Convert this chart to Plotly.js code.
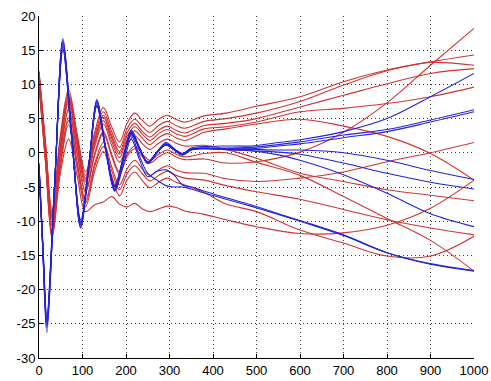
<!DOCTYPE html>
<html>
<head>
<meta charset="utf-8">
<script src="https://cdn.plot.ly/plotly-3.0.1.min.js"></script>
<style>html,body{margin:0;padding:0;background:#fff;}#chart{width:491px;height:381px;}</style>
</head>
<body>
<div id="chart"></div>
<script>
// x positions (samples)
const redX  = [0, 15, 30, 49, 68, 88, 107, 128, 148, 167, 185, 203, 220, 238, 255, 275, 295, 315, 335, 380, 430, 500, 600, 700, 800, 900, 1000];
const blueX = [0, 9, 18, 36, 55, 75, 96, 115, 133, 153, 174, 193, 212, 231, 250, 271, 292, 311, 330, 350, 375, 420, 487, 550, 600, 700, 800, 900, 1000];

// red series
const red1  = [12.0, 1.5, -8.5, 2.5, 9.2, 2.7, -2.8, 3.0, 6.6, 3.8, 1.6, 4.4, 5.8, 4.7, 3.9, 4.9, 5.5, 4.9, 4.5, 5.4, 5.8, 6.8, 8.2, 10.4, 12.1, 13.3, 14.3];
const red2  = [11.8, 1.2, -8.9, 2.0, 8.7, 2.2, -3.3, 2.5, 6.0, 3.1, 0.8, 3.6, 4.9, 3.8, 3.0, 4.0, 4.6, 4.0, 3.6, 4.6, 5.0, 5.8, 7.5, 9.9, 12.0, 13.2, 12.8];
const red3  = [11.7, 1.0, -9.2, 1.7, 8.3, 1.8, -3.7, 2.0, 5.5, 2.6, 0.2, 3.0, 4.3, 3.1, 2.3, 3.3, 3.9, 3.3, 2.9, 4.0, 4.3, 5.0, 6.7, 8.4, 10.1, 11.6, 12.3];
const red4  = [11.6, 0.8, -9.4, 1.4, 8.0, 1.5, -4.0, 1.7, 5.2, 2.2, -0.2, 2.5, 3.8, 2.7, 1.8, 2.8, 3.4, 2.8, 2.4, 3.5, 3.8, 4.5, 6.0, 6.5, 7.2, 8.2, 9.6];
const red5  = [11.4, 0.7, -9.6, 1.1, 7.7, 1.2, -4.3, 1.4, 4.7, 1.7, -0.7, 2.0, 3.2, 2.1, 1.2, 2.2, 2.8, 2.2, 1.8, 3.0, 3.5, 4.2, 4.9, 3.9, 2.4, -0.1, -4.0];
const red6  = [11.3, 0.4, -9.9, 0.7, 7.3, 0.8, -4.7, 0.9, 4.2, 1.1, -1.4, 1.3, 2.5, 1.3, 0.5, 1.4, 2.0, 1.4, 1.0, 1.1, 0.5, -0.8, -3.0, -4.2, -5.4, -6.2, -7.0];
const red7  = [10.9, -0.2, -10.7, -0.3, 6.2, -0.3, -5.8, -0.4, 2.8, -0.5, -3.1, -0.5, 0.6, -0.6, -1.5, -0.6, 0.0, -0.6, -1.0, -0.9, -1.5, -1.3, 0.1, 3.0, 7.3, 12.8, 18.2];
const red8  = [11.0, -0.1, -10.6, -0.1, 6.4, -0.1, -5.6, -0.1, 3.1, -0.2, -2.8, -0.2, 1.0, -0.2, -1.1, -0.2, 0.4, -0.2, -0.6, -0.1, 0.0, -1.4, -3.3, -6.4, -9.6, -12.8, -17.3];
const red9  = [10.5, -0.8, -11.5, -1.3, 5.1, -1.4, -6.9, -1.6, 1.5, -2.0, -4.7, -2.3, -1.1, -2.4, -3.3, -2.5, -1.9, -2.5, -2.9, -3.0, -3.8, -4.2, -3.7, -2.8, -1.3, 0.0, 1.5];
const red10 = [10.3, -1.0, -11.8, -1.7, 4.7, -1.8, -7.3, -2.0, 0.9, -2.6, -5.4, -3.0, -1.9, -3.1, -4.1, -3.3, -2.7, -3.3, -3.7, -4.0, -4.8, -5.7, -6.8, -8.3, -9.8, -11.0, -12.0];
const red11 = [10.1, -1.3, -12.2, -2.2, 4.1, -2.4, -7.9, -2.7, 0.2, -3.4, -6.3, -3.9, -2.8, -4.1, -5.1, -4.3, -3.7, -4.3, -4.7, -5.8, -7.5, -8.6, -11.3, -13.2, -15.1, -15.1, -12.2];
const red12 = [9.6, -1.5, -12.5, -3.0, 2.0, -3.5, -8.6, -7.6, -7.2, -6.4, -7.5, -7.9, -7.4, -8.2, -8.6, -8.2, -7.8, -8.0, -8.5, -9.0, -9.8, -10.8, -11.8, -11.7, -10.6, -8.1, -4.0];

// blue series
const blue1 = [-2.2, -14.8, -26.3, -4.7, 16.7, 2.6, -11.0, -1.6, 7.8, 0.9, -5.5, -1.0, 3.3, 0.8, -1.6, 0.1, 1.5, 0.6, -0.1, 0.7, 0.9, 1.0, 1.0, 1.5, 1.9, 3.1, 5.0, 8.2, 11.6];
const blue2 = [-2.0, -14.0, -24.8, -4.5, 15.8, 2.5, -10.3, -1.5, 7.2, 0.8, -5.0, -1.0, 3.0, 0.7, -1.4, 0.1, 1.3, 0.5, -0.2, 0.5, 0.7, 0.7, 0.8, 1.2, 1.6, 2.6, 3.4, 4.8, 6.3];
const blue3 = [-1.8, -13.8, -24.2, -4.6, 15.2, 2.2, -10.2, -1.6, 6.8, 0.6, -5.0, -1.1, 2.7, 0.5, -1.5, 0.0, 1.1, 0.4, -0.3, 0.4, 0.6, 0.6, 0.6, 1.0, 1.3, 2.2, 3.1, 4.5, 6.0];
const blue4 = [-2.5, -13.5, -23.8, -4.2, 15.0, 2.4, -9.8, -1.4, 6.8, 0.7, -4.8, -0.9, 2.8, 0.6, -1.3, 0.1, 1.2, 0.5, -0.1, 0.6, 0.7, 0.6, 0.5, 0.4, 0.4, 0.0, -1.1, -2.6, -3.9];
const blue5 = [-1.5, -14.3, -25.3, -4.7, 16.2, 2.6, -10.7, -1.6, 7.5, 0.8, -5.3, -1.1, 3.1, 0.7, -1.5, 0.0, 1.3, 0.4, -0.3, 0.4, 0.6, 0.5, 0.3, 0.1, -0.2, -1.5, -3.0, -4.3, -5.3];
const blue6 = [-3.0, -14.0, -24.5, -4.5, 15.5, 2.3, -10.1, -1.6, 7.0, 0.7, -4.9, -1.0, 2.9, 0.6, -1.5, 0.0, 1.2, 0.4, -0.2, 0.5, 0.6, 0.5, 0.3, -0.3, -1.1, -3.2, -5.9, -8.9, -10.8];
const blue7 = [-2.0, -14.2, -25.0, -4.6, 16.0, 2.5, -10.5, -1.6, 7.5, 0.5, -5.6, -2.0, 2.0, -1.0, -3.5, -2.7, -2.5, -3.3, -4.7, -5.0, -5.5, -6.4, -7.6, -8.9, -9.9, -12.0, -14.6, -16.3, -17.3];
const blue8 = [-1.6, -14.4, -25.6, -4.8, 16.4, 2.7, -10.9, -1.7, 7.6, 0.7, -5.4, -1.2, 2.5, -0.5, -3.0, -4.0, -4.8, -5.0, -5.0, -5.3, -5.8, -6.6, -7.8, -9.0, -10.0, -12.1, -14.6, -16.2, -17.2];

// tick labels
const xTicks = [0, 100, 200, 300, 400, 500, 600, 700, 800, 900, 1000];
const xTickText = ['0', '100', '200', '300', '400', '500', '600', '700', '800', '900', '1000'];
const yTicks = [-30, -25, -20, -15, -10, -5, 0, 5, 10, 15, 20];
const yTickText = ['-30', '-25', '-20', '-15', '-10', '-5', '0', '5', '10', '15', '20'];

const redSeries = [red1, red2, red3, red4, red5, red6, red7, red8, red9, red10, red11, red12];
const blueSeries = [blue1, blue2, blue3, blue4, blue5, blue6, blue7, blue8];

const traces = [];
redSeries.forEach(function (ys) {
  traces.push({x: redX, y: ys, type: 'scatter', mode: 'lines',
    line: {color: 'rgb(208,52,52)', width: 1.1, shape: 'spline', smoothing: 1},
    hoverinfo: 'skip', showlegend: false});
});
blueSeries.forEach(function (ys) {
  traces.push({x: blueX, y: ys, type: 'scatter', mode: 'lines',
    line: {color: 'rgb(35,35,215)', width: 1.1, shape: 'spline', smoothing: 1},
    hoverinfo: 'skip', showlegend: false});
});

const gridStyle = {showgrid: true, gridcolor: '#3a3a3a', gridwidth: 1, griddash: '1px,3px'};
const tickFont = {family: 'Liberation Sans, Arial, sans-serif', size: 13, color: '#000'};

const layout = {
  width: 491, height: 381,
  margin: {l: 39, r: 17, t: 16, b: 23, pad: 0},
  paper_bgcolor: '#ffffff', plot_bgcolor: '#ffffff',
  showlegend: false,
  font: {family: 'Liberation Sans, Arial, sans-serif', size: 13, color: '#000'},
  xaxis: Object.assign({
    range: [0, 1000], tickmode: 'array', tickvals: xTicks, ticktext: xTickText,
    ticks: 'inside', ticklen: 4, tickcolor: '#000', showline: true, linecolor: '#000', linewidth: 1,
    zeroline: false, mirror: false, fixedrange: true, tickfont: tickFont
  }, gridStyle),
  yaxis: Object.assign({
    range: [-30, 20], tickmode: 'array', tickvals: yTicks, ticktext: yTickText,
    ticks: 'inside', ticklen: 4, tickcolor: '#000', showline: true, linecolor: '#000', linewidth: 1,
    zeroline: false, mirror: false, fixedrange: true, tickfont: tickFont
  }, gridStyle)
};

Plotly.newPlot('chart', traces, layout, {staticPlot: true, displayModeBar: false});
</script>
</body>
</html>
